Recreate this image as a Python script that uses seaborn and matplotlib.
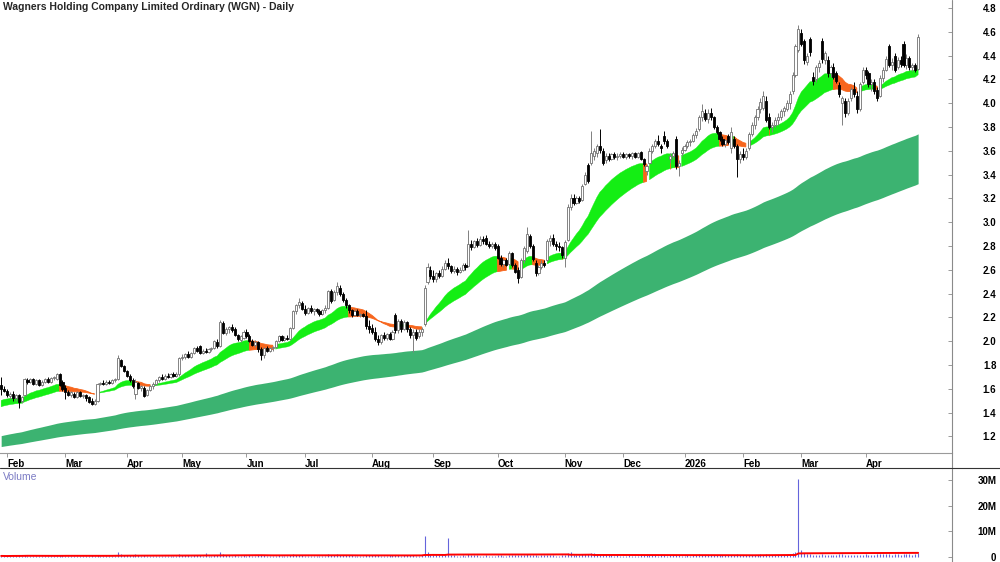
import numpy as np
import pandas as pd
import seaborn as sns
import matplotlib.pyplot as plt
from matplotlib.lines import Line2D
from matplotlib.transforms import ScaledTranslation

# trading calendar shown on the chart (ASX holidays left out)
holidays = ["2025-04-18", "2025-04-21", "2025-04-25", "2025-06-09", "2025-12-25",
            "2025-12-26", "2026-01-01", "2026-01-26", "2026-04-03", "2026-04-06"]
dates = pd.bdate_range("2025-01-30", "2026-04-29", freq="C", holidays=holidays)

# daily prices, one line per month
opens = [
    1.63, 1.60,
    1.58, 1.54, 1.56, 1.52, 1.55, 1.50, 1.55, 1.67, 1.66, 1.68, 1.64, 1.67, 1.63, 1.66, 1.68, 1.66, 1.69, 1.68, 1.72, 1.66,
    1.61, 1.57, 1.55, 1.56, 1.53, 1.57, 1.54, 1.55, 1.53, 1.50, 1.47, 1.50, 1.64, 1.65, 1.64, 1.66, 1.65, 1.67, 1.68, 1.84, 1.79,
    1.75, 1.71, 1.67, 1.56, 1.65, 1.61, 1.61, 1.55, 1.59, 1.62, 1.64, 1.67, 1.70, 1.68, 1.71, 1.70, 1.72, 1.71, 1.72,
    1.86, 1.87, 1.89, 1.87, 1.90, 1.94, 1.96, 1.90, 1.92, 1.91, 1.93, 1.94, 1.99, 1.96, 2.15, 2.07, 2.10, 2.12, 2.10, 2.05, 2.01, 2.03,
    2.08, 2.04, 2.00, 1.97, 1.99, 1.93, 1.88, 1.94, 1.92, 1.94, 1.95, 2.00, 2.04, 2.01, 2.03, 2.02, 2.11, 2.25, 2.30, 2.32,
    2.27, 2.24, 2.28, 2.25, 2.27, 2.25, 2.23, 2.26, 2.28, 2.42, 2.35, 2.41, 2.45, 2.40, 2.35, 2.30, 2.26, 2.22, 2.25, 2.22, 2.23, 2.21, 2.13,
    2.11, 2.08, 2.02, 1.99, 2.05, 2.03, 2.06, 2.02, 2.22, 2.09, 2.17, 2.10, 2.16, 2.10, 2.05, 2.08, 2.04, 2.08, 2.14, 2.50, 2.60,
    2.55, 2.52, 2.57, 2.55, 2.61, 2.66, 2.63, 2.59, 2.61, 2.58, 2.60, 2.64, 2.63, 2.82, 2.79, 2.84, 2.81, 2.86, 2.87, 2.82, 2.80, 2.82,
    2.80, 2.70, 2.65, 2.68, 2.65, 2.74, 2.64, 2.60, 2.54, 2.68, 2.76, 2.88, 2.80, 2.66, 2.57, 2.62, 2.66, 2.68, 2.84, 2.87, 2.82, 2.80, 2.79,
    2.70, 2.85, 3.13, 3.20, 3.16, 3.20, 3.19, 3.32, 3.48, 3.50, 3.56, 3.58, 3.64, 3.60, 3.52, 3.56, 3.53, 3.57, 3.55, 3.56,
    3.57, 3.55, 3.57, 3.56, 3.58, 3.55, 3.59, 3.53, 3.43, 3.50, 3.60, 3.64, 3.68, 3.64, 3.72, 3.68, 3.53, 3.56, 3.70, 3.47, 3.58,
    3.61, 3.64, 3.67, 3.68, 3.73, 3.78, 3.88, 3.92, 3.87, 3.92, 3.88, 3.80, 3.76, 3.70, 3.66, 3.72, 3.62, 3.70, 3.64, 3.53,
    3.57, 3.55, 3.62, 3.74, 3.82, 3.88, 3.95, 3.96, 4.02, 3.88, 3.80, 3.82, 3.86, 3.88, 3.93, 3.95, 4.00, 4.10, 4.24, 4.45,
    4.59, 4.52, 4.35, 4.54, 4.22, 4.20, 4.30, 4.52, 4.36, 4.36, 4.25, 4.30, 4.25, 4.15, 4.00, 4.02, 3.92, 4.04, 4.12, 4.06, 3.95, 4.18,
    4.28, 4.25, 4.16, 4.18, 4.11, 4.06, 4.21, 4.28, 4.48, 4.32, 4.40, 4.30, 4.36, 4.50, 4.32, 4.38, 4.30, 4.32, 4.29,
]
highs = [
    1.70, 1.62,
    1.60, 1.57, 1.58, 1.56, 1.56, 1.54, 1.69, 1.69, 1.69, 1.69, 1.68, 1.68, 1.67, 1.69, 1.70, 1.70, 1.71, 1.73, 1.73, 1.67,
    1.63, 1.59, 1.58, 1.57, 1.58, 1.58, 1.56, 1.56, 1.54, 1.52, 1.51, 1.65, 1.66, 1.67, 1.67, 1.67, 1.68, 1.69, 1.88, 1.85, 1.80,
    1.76, 1.72, 1.69, 1.68, 1.66, 1.63, 1.62, 1.60, 1.63, 1.66, 1.68, 1.71, 1.72, 1.72, 1.73, 1.73, 1.74, 1.74, 1.87,
    1.89, 1.90, 1.92, 1.91, 1.95, 1.96, 1.97, 1.93, 1.94, 1.94, 1.95, 2.01, 2.02, 2.18, 2.17, 2.12, 2.13, 2.14, 2.12, 2.06, 2.05, 2.09,
    2.10, 2.06, 2.02, 2.01, 2.00, 1.95, 1.95, 1.96, 1.95, 1.96, 2.01, 2.05, 2.05, 2.04, 2.05, 2.12, 2.26, 2.31, 2.36, 2.34,
    2.30, 2.29, 2.30, 2.28, 2.28, 2.27, 2.27, 2.30, 2.43, 2.44, 2.43, 2.50, 2.47, 2.41, 2.36, 2.31, 2.27, 2.27, 2.27, 2.24, 2.24, 2.26, 2.18,
    2.14, 2.12, 2.05, 2.06, 2.08, 2.07, 2.08, 2.09, 2.24, 2.19, 2.19, 2.18, 2.17, 2.12, 2.10, 2.10, 2.10, 2.12, 2.47, 2.66, 2.63,
    2.60, 2.58, 2.60, 2.63, 2.68, 2.70, 2.64, 2.63, 2.62, 2.62, 2.66, 2.66, 2.93, 2.85, 2.85, 2.87, 2.88, 2.88, 2.89, 2.84, 2.83, 2.83,
    2.82, 2.72, 2.69, 2.70, 2.76, 2.75, 2.66, 2.62, 2.70, 2.80, 2.96, 2.90, 2.82, 2.68, 2.64, 2.68, 2.68, 2.86, 2.89, 2.90, 2.84, 2.83, 2.80,
    2.85, 3.15, 3.24, 3.24, 3.22, 3.22, 3.32, 3.42, 3.50, 3.77, 3.62, 3.66, 3.78, 3.62, 3.58, 3.58, 3.58, 3.59, 3.58, 3.59,
    3.59, 3.58, 3.58, 3.59, 3.59, 3.59, 3.60, 3.54, 3.49, 3.62, 3.66, 3.70, 3.73, 3.66, 3.77, 3.70, 3.58, 3.60, 3.72, 3.52, 3.63,
    3.66, 3.69, 3.70, 3.75, 3.79, 3.90, 3.99, 3.95, 3.95, 3.96, 3.89, 3.82, 3.77, 3.72, 3.70, 3.74, 3.80, 3.72, 3.66, 3.60,
    3.62, 3.62, 3.76, 3.84, 3.90, 3.98, 4.04, 4.10, 4.06, 3.92, 3.84, 3.88, 3.92, 3.95, 3.98, 4.03, 4.10, 4.26, 4.50, 4.66,
    4.62, 4.54, 4.42, 4.56, 4.26, 4.32, 4.36, 4.55, 4.44, 4.40, 4.32, 4.34, 4.27, 4.18, 4.06, 4.04, 4.04, 4.14, 4.18, 4.10, 4.18, 4.30,
    4.30, 4.27, 4.20, 4.20, 4.14, 4.24, 4.30, 4.40, 4.50, 4.38, 4.42, 4.39, 4.40, 4.52, 4.41, 4.40, 4.34, 4.34, 4.58,
]
lows = [
    1.55, 1.57,
    1.53, 1.51, 1.50, 1.50, 1.44, 1.48, 1.54, 1.64, 1.65, 1.63, 1.63, 1.62, 1.62, 1.65, 1.65, 1.65, 1.67, 1.67, 1.62, 1.58,
    1.51, 1.54, 1.53, 1.52, 1.52, 1.53, 1.52, 1.50, 1.48, 1.46, 1.46, 1.49, 1.63, 1.63, 1.63, 1.64, 1.64, 1.66, 1.67, 1.78, 1.74,
    1.70, 1.66, 1.61, 1.51, 1.60, 1.58, 1.53, 1.54, 1.58, 1.60, 1.63, 1.66, 1.67, 1.67, 1.69, 1.69, 1.70, 1.70, 1.71,
    1.84, 1.85, 1.86, 1.86, 1.89, 1.91, 1.89, 1.89, 1.90, 1.90, 1.92, 1.93, 1.94, 1.95, 2.06, 2.05, 2.07, 2.08, 2.04, 2.00, 1.99, 2.02,
    2.03, 1.99, 1.96, 1.95, 1.91, 1.84, 1.86, 1.91, 1.91, 1.92, 1.94, 1.99, 2.00, 2.00, 2.01, 2.01, 2.10, 2.23, 2.28, 2.26,
    2.22, 2.23, 2.24, 2.22, 2.24, 2.21, 2.22, 2.24, 2.27, 2.32, 2.34, 2.39, 2.38, 2.33, 2.28, 2.24, 2.20, 2.21, 2.21, 2.20, 2.20, 2.10, 2.07,
    2.06, 2.00, 1.97, 1.98, 2.01, 2.01, 2.01, 2.01, 2.07, 2.07, 2.08, 2.09, 2.08, 2.03, 1.91, 2.01, 2.03, 2.04, 2.13, 2.48, 2.52,
    2.50, 2.50, 2.53, 2.54, 2.60, 2.61, 2.57, 2.57, 2.56, 2.57, 2.59, 2.60, 2.62, 2.77, 2.78, 2.79, 2.80, 2.82, 2.81, 2.78, 2.78, 2.77,
    2.69, 2.63, 2.62, 2.63, 2.64, 2.62, 2.57, 2.49, 2.53, 2.66, 2.74, 2.78, 2.67, 2.55, 2.56, 2.61, 2.62, 2.67, 2.80, 2.80, 2.77, 2.76, 2.70,
    2.62, 2.84, 3.10, 3.14, 3.15, 3.16, 3.18, 3.31, 3.33, 3.48, 3.52, 3.55, 3.58, 3.48, 3.50, 3.51, 3.52, 3.53, 3.52, 3.54,
    3.54, 3.53, 3.54, 3.53, 3.54, 3.54, 3.52, 3.47, 3.40, 3.49, 3.58, 3.62, 3.64, 3.58, 3.66, 3.62, 3.50, 3.53, 3.45, 3.39, 3.56,
    3.60, 3.62, 3.64, 3.67, 3.71, 3.77, 3.85, 3.85, 3.83, 3.86, 3.78, 3.74, 3.68, 3.64, 3.63, 3.66, 3.58, 3.62, 3.38, 3.50,
    3.52, 3.53, 3.61, 3.72, 3.78, 3.86, 3.92, 3.94, 3.84, 3.78, 3.76, 3.80, 3.82, 3.86, 3.89, 3.93, 3.95, 4.08, 4.22, 4.43,
    4.48, 4.33, 4.32, 4.40, 4.15, 4.18, 4.26, 4.34, 4.33, 4.22, 4.22, 4.20, 4.17, 4.05, 3.82, 3.88, 3.90, 4.02, 4.05, 3.92, 3.93, 4.16,
    4.20, 4.14, 4.10, 4.08, 4.02, 4.05, 4.18, 4.27, 4.30, 4.28, 4.26, 4.29, 4.30, 4.30, 4.29, 4.28, 4.27, 4.26, 4.28,
]
closes = [
    1.60, 1.58,
    1.55, 1.56, 1.52, 1.55, 1.49, 1.53, 1.68, 1.66, 1.68, 1.64, 1.67, 1.63, 1.66, 1.68, 1.66, 1.69, 1.70, 1.72, 1.63, 1.60,
    1.57, 1.55, 1.57, 1.53, 1.57, 1.54, 1.55, 1.52, 1.49, 1.47, 1.50, 1.64, 1.65, 1.64, 1.66, 1.65, 1.67, 1.68, 1.86, 1.79, 1.75,
    1.71, 1.67, 1.62, 1.66, 1.61, 1.62, 1.54, 1.59, 1.62, 1.64, 1.67, 1.70, 1.68, 1.71, 1.70, 1.72, 1.71, 1.72, 1.86,
    1.87, 1.89, 1.87, 1.90, 1.94, 1.92, 1.90, 1.92, 1.91, 1.93, 1.94, 2.00, 1.96, 2.16, 2.07, 2.10, 2.12, 2.09, 2.05, 2.02, 2.04, 2.08,
    2.04, 2.00, 1.97, 1.99, 1.93, 1.88, 1.94, 1.92, 1.94, 1.95, 2.00, 2.04, 2.01, 2.03, 2.02, 2.11, 2.25, 2.30, 2.33, 2.27,
    2.24, 2.28, 2.25, 2.27, 2.25, 2.23, 2.26, 2.28, 2.42, 2.34, 2.41, 2.46, 2.40, 2.35, 2.30, 2.26, 2.22, 2.25, 2.22, 2.23, 2.21, 2.13, 2.10,
    2.08, 2.02, 1.99, 2.05, 2.03, 2.06, 2.02, 2.08, 2.09, 2.17, 2.10, 2.16, 2.10, 2.05, 2.08, 2.03, 2.08, 2.10, 2.45, 2.62, 2.55,
    2.52, 2.57, 2.55, 2.61, 2.66, 2.63, 2.59, 2.61, 2.58, 2.60, 2.64, 2.62, 2.82, 2.79, 2.84, 2.81, 2.86, 2.84, 2.82, 2.80, 2.82, 2.78,
    2.70, 2.65, 2.68, 2.64, 2.74, 2.64, 2.58, 2.53, 2.68, 2.78, 2.90, 2.80, 2.69, 2.57, 2.62, 2.66, 2.64, 2.84, 2.87, 2.82, 2.80, 2.79, 2.72,
    2.83, 3.13, 3.20, 3.16, 3.20, 3.18, 3.30, 3.40, 3.35, 3.58, 3.60, 3.64, 3.61, 3.50, 3.56, 3.53, 3.57, 3.55, 3.56, 3.57,
    3.55, 3.57, 3.56, 3.58, 3.55, 3.58, 3.53, 3.49, 3.47, 3.60, 3.64, 3.68, 3.66, 3.62, 3.68, 3.64, 3.56, 3.58, 3.47, 3.50, 3.61,
    3.64, 3.67, 3.68, 3.73, 3.77, 3.88, 3.93, 3.87, 3.92, 3.88, 3.80, 3.76, 3.70, 3.66, 3.69, 3.67, 3.76, 3.64, 3.53, 3.57,
    3.55, 3.60, 3.74, 3.82, 3.88, 3.95, 4.01, 4.06, 3.86, 3.80, 3.82, 3.86, 3.88, 3.93, 3.96, 4.00, 4.08, 4.24, 4.48, 4.62,
    4.50, 4.36, 4.40, 4.43, 4.19, 4.30, 4.34, 4.37, 4.42, 4.25, 4.30, 4.22, 4.19, 4.08, 4.04, 3.92, 4.02, 4.12, 4.08, 3.95, 4.16, 4.28,
    4.24, 4.16, 4.18, 4.10, 4.04, 4.21, 4.28, 4.37, 4.32, 4.35, 4.28, 4.36, 4.33, 4.32, 4.38, 4.30, 4.32, 4.28, 4.56,
]
# daily volume in thousands of shares
volume_k = [
    420, 380,
    350, 500, 420, 380, 650, 300, 800, 450, 400, 350, 420, 380, 300, 450, 500, 400, 380, 520, 700, 600,
    550, 400, 380, 450, 300, 350, 420, 380, 500, 600, 450, 900, 420, 380, 350, 400, 450, 500, 1800, 1200, 800,
    700, 650, 800, 1100, 600, 500, 700, 450, 400, 380, 500, 420, 350, 400, 380, 450, 500, 420, 1300,
    900, 700, 600, 500, 800, 600, 700, 500, 1600, 450, 500, 600, 700, 2000, 1100, 700, 600, 500, 650, 500, 450, 600,
    550, 600, 500, 450, 700, 800, 600, 450, 400, 380, 500, 600, 450, 400, 420, 900, 1300, 900, 800, 600,
    500, 450, 400, 420, 380, 450, 400, 500, 1100, 700, 600, 1000, 800, 700, 650, 700, 600, 500, 450, 420, 500, 800, 700,
    800, 700, 600, 500, 450, 500, 600, 900, 700, 600, 500, 600, 700, 800, 600, 500, 550, 600, 8200, 1800, 900,
    700, 600, 650, 600, 800, 7600, 900, 600, 500, 550, 600, 500, 1300, 800, 700, 600, 550, 500, 600, 500, 450, 500,
    650, 600, 500, 550, 700, 650, 700, 800, 700, 900, 1200, 800, 700, 600, 550, 600, 900, 800, 650, 600, 550, 500, 600,
    900, 1600, 1900, 900, 700, 800, 1100, 1200, 1300, 1500, 1400, 1100, 900, 800, 700, 650, 600, 550, 600, 500,
    550, 500, 600, 500, 450, 500, 600, 700, 1000, 800, 700, 600, 500, 600, 700, 500, 600, 800, 900, 700, 450,
    500, 600, 550, 700, 800, 1100, 900, 700, 800, 700, 600, 650, 700, 600, 650, 800, 700, 900, 1000, 800,
    700, 650, 900, 800, 850, 900, 1000, 900, 1100, 800, 700, 650, 700, 750, 800, 900, 1000, 1500, 1800, 30500,
    2600, 1400, 1100, 1000, 900, 850, 800, 1000, 900, 850, 800, 750, 900, 1000, 1200, 900, 800, 850, 900, 800, 850, 900,
    1000, 900, 850, 900, 1100, 1000, 1200, 1100, 1000, 950, 1100, 1000, 900, 1000, 1100, 1000, 950, 1100, 1600,
]

# moving-average settings: (span, value on the first bar)
short_fast, short_slow = (18, 1.49), (35, 1.44)
long_fast, long_slow = (135, 1.20), (225, 1.11)
vol_window = 50

title = "Wagners Holding Company Limited Ordinary (WGN) - Daily"

n = len(dates)
assert len(opens) == len(highs) == len(lows) == len(closes) == len(volume_k) == n, \
    (n, len(opens), len(highs), len(lows), len(closes), len(volume_k))

o, h, l, c = (np.array(a) for a in (opens, highs, lows, closes))
vol = np.array(volume_k) * 1000.0
x = np.arange(n)


def ema(values, span, seed):
    s = pd.Series(np.r_[seed, values])
    return s.ewm(span=span, adjust=False).mean().to_numpy()[1:]


fast = ema(c, *short_fast)
slow = ema(c, *short_slow)
lfast = ema(c, *long_fast)
lslow = ema(c, *long_slow)
# short band is green while the fast average rises, orange while it falls
rising = np.r_[True, np.diff(fast) >= 0]
rising_fill = rising.copy()
rising_fill[1:] |= rising[:-1]

sns.set_theme(style="white")
plt.rcParams["font.family"] = ["Liberation Sans", "DejaVu Sans"]

W, H = 1000, 562
fig = plt.figure(figsize=(10, 5.62), dpi=100)
ax = fig.add_axes([0, 1 - 453 / H, 952 / W, 453 / H])
axv = fig.add_axes([0, 0, 952 / W, 94 / H])
xlim = (-0.4, 325.6)

# bands
ax.fill_between(x, lfast, lslow, color="#3cb371", lw=0, zorder=1)
ax.fill_between(x, fast, slow, where=rising_fill, color="#14ee14", lw=0.3,
                edgecolor="#14ee14", zorder=2)
ax.fill_between(x, fast, slow, where=~rising, color="#f7651c", lw=0.6,
                edgecolor="#f7651c", zorder=2.1)

# candles
up = c >= o
body_lo = np.minimum(o, c)
body_h = np.maximum(np.abs(c - o), 0.004)
ax.vlines(x[up], l[up], h[up], color="#808080", lw=0.7, zorder=3)
ax.vlines(x[~up], l[~up], h[~up], color="black", lw=0.7, zorder=3)
ax.bar(x[up], body_h[up], bottom=body_lo[up], width=0.72, color="white",
       edgecolor="#707070", linewidth=0.6, zorder=4)
ax.bar(x[~up], body_h[~up], bottom=body_lo[~up], width=0.72, color="black",
       edgecolor="black", linewidth=0.6, zorder=4)

ax.set_xlim(*xlim)
ax.set_ylim(1.06, 4.867)

# month ticks
month_start = [i for i in range(1, n) if dates[i].month != dates[i - 1].month]
month_lbl = [str(d.year) if d.month == 1 else d.strftime("%b") for d in dates[month_start]]
ax.set_xticks(month_start)
ax.set_xticklabels(month_lbl, ha="left", fontweight="bold", fontsize=7)
shift = ScaledTranslation(3 / 100, 0, fig.dpi_scale_trans)
for lbl in ax.get_xticklabels():
    lbl.set_transform(lbl.get_transform() + shift)
ax.tick_params(axis="x", direction="out", length=3, width=0.6, color="#8a8a8a",
               pad=1, bottom=True, labelcolor="black")

price_ticks = np.round(np.arange(1.2, 4.81, 0.2), 1)
ax.yaxis.tick_right()
ax.set_yticks(price_ticks)
ax.set_yticklabels([f"{v:.1f}" for v in price_ticks], fontweight="bold", fontsize=7)
ax.tick_params(axis="y", direction="in", length=3, width=0.6, color="#8a8a8a",
               pad=32, right=True, labelcolor="black")
for lbl in ax.get_yticklabels():
    lbl.set_horizontalalignment("right")

for side in ("left", "top", "right"):
    ax.spines[side].set_visible(False)
ax.spines["bottom"].set_color("#9a9a9a")
ax.spines["bottom"].set_linewidth(0.8)
ax.grid(False)

# volume panel
axv.vlines(x, 0, vol, color="#6464dc", lw=0.8, zorder=2)
vol_ma = pd.Series(vol).rolling(vol_window, min_periods=1).mean().to_numpy()
sns.lineplot(x=x, y=vol_ma, ax=axv, color="#ff0000", lw=1.4, zorder=3)
axv.set_xlim(*xlim)
axv.set_ylim(-1.95e6, 34.7e6)
axv.set_xticks([])
vol_ticks = [0, 1e7, 2e7, 3e7]
axv.yaxis.tick_right()
axv.set_yticks(vol_ticks)
axv.set_yticklabels(["0", "10M", "20M", "30M"], fontweight="bold", fontsize=7)
axv.tick_params(axis="y", direction="in", length=3, width=0.6, color="#8a8a8a",
                pad=32, right=True, labelcolor="black")
for lbl in axv.get_yticklabels():
    lbl.set_horizontalalignment("right")
for side in axv.spines:
    axv.spines[side].set_visible(False)
axv.grid(False)
axv.text(0.003, 0.955, "Volume", transform=axv.transAxes, color="#7b7bc4",
         fontsize=7.5, va="top", ha="left")

# frame lines
fig.add_artist(Line2D([952 / W, 952 / W], [0, 1], color="#8a8a8a", lw=0.8))
fig.add_artist(Line2D([0, 1], [1 - 468 / H] * 2, color="#333333", lw=0.8))

fig.text(3 / W, 1 - 2 / H, title, fontsize=7.5, fontweight="bold", va="top", ha="left")

fig.savefig("out.png", dpi=100)
